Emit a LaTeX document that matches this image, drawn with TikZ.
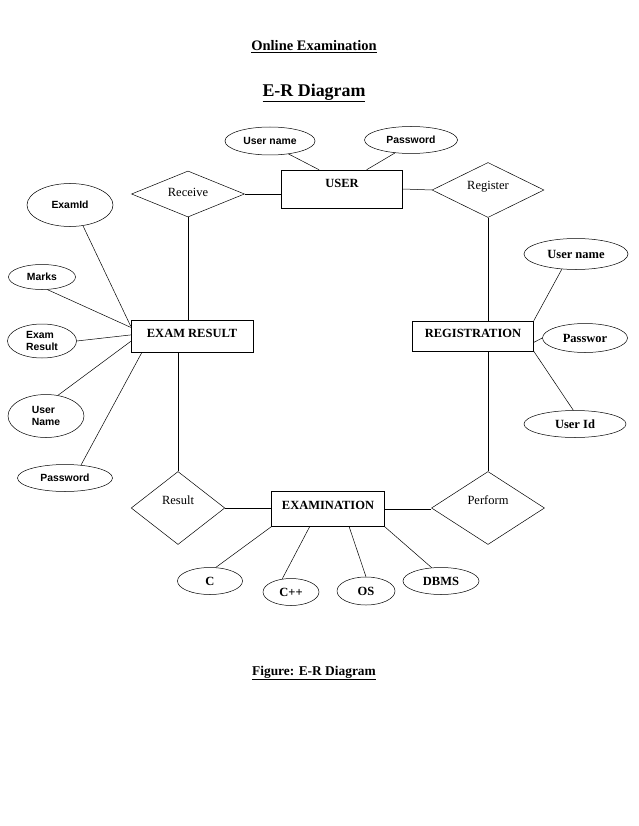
\documentclass[tikz,border=0pt]{standalone}
\usepackage{fontspec}
\setmainfont{Liberation Serif}
\newfontfamily\arialfont{Liberation Sans}
\usetikzlibrary{shapes.geometric}

\begin{document}
\begin{tikzpicture}[x=1pt,y=-1pt,line width=0.5pt,
	entity/.style={draw,rectangle,inner sep=0pt,font=\fontsize{12.5}{14}\selectfont\bfseries},
	relation/.style={draw,diamond,aspect=2.5,inner sep=0pt,font=\fontsize{12.5}{14}\selectfont},
	attrib/.style={draw,ellipse,inner sep=0pt,font=\fontsize{10.4}{12.5}\selectfont\arialfont\bfseries},
	attribrm/.style={draw,ellipse,inner sep=0pt,font=\fontsize{12.5}{14}\selectfont\bfseries},
	heading/.style={font=\fontsize{13.4}{15}\selectfont\bfseries}]
\fill[white] (0,0) rectangle (638,826);
\useasboundingbox (0,0) rectangle (638,826);
\node[heading,font=\fontsize{14.5}{16}\selectfont\bfseries] (title) at (314,47) {\underline{Online Examination}};
\node[font=\fontsize{17.9}{20}\selectfont\bfseries] (subtitle) at (314,93) {\underline{E-R Diagram}};
\node[heading] (caption) at (314,673) {\underline{Figure: E-R Diagram}};
\node[entity,minimum width=121pt,minimum height=38pt,text depth=12pt] (user) at (342,189) {USER};
\node[entity,minimum width=122pt,minimum height=32pt,text depth=6pt] (examresult) at (192,336) {EXAM RESULT};
\node[entity,minimum width=121pt,minimum height=30pt,text depth=6pt] (registration) at (473,336) {REGISTRATION};
\node[entity,minimum width=113pt,minimum height=35pt,text depth=8pt] (examination) at (328,509) {EXAMINATION};
\node[relation,minimum width=113pt,minimum height=46pt,text depth=4pt] (receive) at (188,194) {Receive};
\node[relation,minimum width=112pt,minimum height=55pt,text depth=10pt] (register) at (488,190) {Register};
\node[relation,minimum width=93pt,minimum height=73pt,text depth=16pt] (result) at (178,508) {Result};
\node[relation,minimum width=113pt,minimum height=73pt,text depth=16pt] (perform) at (488,508) {Perform};
\node[attrib,minimum width=90pt,minimum height=28pt] (username) at (270,141) {User name};
\node[attrib,minimum width=93pt,minimum height=27pt] (password) at (411,140) {Password};
\node[attrib,minimum width=86pt,minimum height=43pt] (examid) at (70,205) {ExamId};
\node[attrib,minimum width=67pt,minimum height=25pt] (marks) at (42,277) {Marks};
\node[attrib,minimum width=69pt,minimum height=34pt,align=left,text depth=0pt] (examres) at (42,341) {Exam\\Result};
\node[attrib,minimum width=76pt,minimum height=43pt,align=left] (uname) at (46,416) {User\\Name};
\node[attrib,minimum width=95pt,minimum height=27pt] (erpassword) at (65,478) {Password};
\node[attribrm,minimum width=104pt,minimum height=31pt] (regusername) at (576,254) {User name};
\node[attribrm,minimum width=85pt,minimum height=29pt] (regpassword) at (585,338) {Passwor};
\node[attribrm,minimum width=102pt,minimum height=27pt] (reguserid) at (575,424) {User Id};
\node[attribrm,minimum width=65pt,minimum height=27pt] (c) at (210,581) {C};
\node[attribrm,minimum width=56pt,minimum height=27pt] (cpp) at (291,592) {C++};
\node[attribrm,minimum width=58pt,minimum height=28pt] (os) at (366,591) {OS};
\node[attribrm,minimum width=76pt,minimum height=27pt] (dbms) at (441,581) {DBMS};
\draw (username.325) -- (user.140);
\draw (password.219) -- (user.38);
\draw (receive.east) -- (receive.east -| user.west);
\draw (user.east) -- (register.west);
\draw (receive.south) -- (receive.south |- examresult.north);
\draw (register.south) -- (register.south |- registration.north);
\draw (examresult.south -| result.north) -- (result.north);
\draw (registration.south -| perform.north) -- (perform.north);
\draw (result.east) -- (result.east -| examination.west);
\draw (examination.east) -- (examination.east -| perform.west);
\draw (examid.302) -- (examresult.171);
\draw (marks.293) -- (examresult.172);
\draw (examres.east) -- (examresult.179);
\draw (uname.60) -- (examresult.185);
\draw (erpassword.39) -- (examresult.198);
\draw (regusername.227) -- (registration.north east);
\draw (regpassword.west) -- (registration.354);
\draw (reguserid.97) -- (registration.south east);
\draw (c.67) -- (examination.south west);
\draw (cpp.124) -- (examination.224);
\draw (os.north) -- (examination.320);
\draw (dbms.125) -- (examination.south east);
\end{tikzpicture}
\end{document}
